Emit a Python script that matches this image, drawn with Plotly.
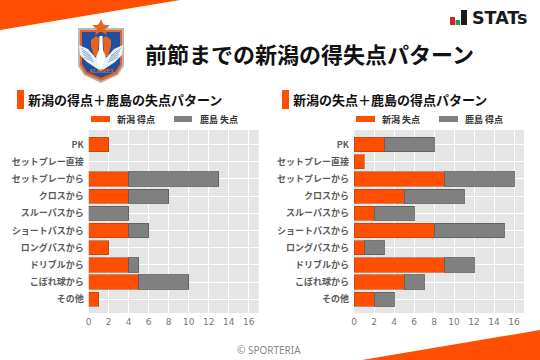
import plotly.graph_objects as go

categories = ["PK", "セットプレー直接", "セットプレーから", "クロスから", "スルーパスから",
              "ショートパスから", "ロングパスから", "ドリブルから", "こぼれ球から", "その他"]
left_niigata_for = [2, 0, 4, 4, 0, 4, 2, 4, 5, 1]
left_kashima_against = [0, 0, 9, 4, 4, 2, 0, 1, 5, 0]
right_niigata_against = [3, 1, 9, 5, 2, 8, 1, 9, 5, 2]
right_kashima_for = [5, 0, 7, 6, 4, 7, 2, 3, 2, 2]
x_ticks = [0, 2, 4, 6, 8, 10, 12, 14, 16]

W, H = 540, 360
ORANGE = "#ff4e00"
GRAY = "#808080"
JP = "Noto Sans CJK JP"


def X(v):
    return v / W


def Y(v):
    return 1 - v / H


def poly(points, fill, line=None, width=0):
    path = "M " + " L ".join(f"{X(a):.5f},{Y(b):.5f}" for a, b in points) + " Z"
    return dict(type="path", xref="paper", yref="paper", path=path, fillcolor=fill,
                line=dict(color=line or fill, width=width), layer="above")


def stroke(points, color, width=0.7):
    path = "M " + " L ".join(f"{X(a):.5f},{Y(b):.5f}" for a, b in points)
    return dict(type="path", xref="paper", yref="paper", path=path, line=dict(color=color, width=width),
                layer="above")


def rect(x0, y0, x1, y1, fill):
    return dict(type="rect", xref="paper", yref="paper", x0=X(x0), x1=X(x1), y0=Y(y1), y1=Y(y0),
                fillcolor=fill, line=dict(width=0), layer="above")


def label(x, y, text, size, color="#111111", anchor="left", family=JP, bold=False):
    return dict(xref="paper", yref="paper", x=X(x), y=Y(y), text=f"<b>{text}</b>" if bold else text,
                showarrow=False, xanchor=anchor, yanchor="middle", align=anchor, borderpad=0, borderwidth=0,
                font=dict(size=size, color=color, family=family))


def edge(values):
    return [1 if v else 0 for v in values]


fig = go.Figure()
panels = [
    ("x", "y", left_niigata_for, left_kashima_against),
    ("x2", "y2", right_niigata_against, right_kashima_for),
]
for xa, ya, first, second in panels:
    fig.add_bar(y=categories, x=first, orientation="h", xaxis=xa, yaxis=ya, showlegend=False,
                marker=dict(color=ORANGE, line=dict(color="rgba(150,70,30,0.55)", width=edge(first))), width=0.83)
    fig.add_bar(y=categories, x=second, orientation="h", xaxis=xa, yaxis=ya, showlegend=False,
                marker=dict(color=GRAY, line=dict(color="rgba(90,90,90,0.8)", width=edge(second))), width=0.83)

xstyle = dict(range=[0, 17], tickvals=x_ticks, showgrid=True, gridcolor="white", gridwidth=1, zeroline=False,
              showline=False, ticks="", tickfont=dict(size=9, color="#777777", family="DejaVu Sans"),
              anchor="free", position=Y(313), ticklabelstandoff=2)
ystyle = dict(categoryorder="array", categoryarray=categories, range=[9.8, -0.85], showgrid=True,
              gridcolor="white", gridwidth=1, zeroline=False, showline=False, ticks="",
              ticklabelstandoff=4, tickfont=dict(size=9, color="#5a5a5a", family=JP, weight=700),
              domain=[Y(313), Y(130)])

feathers = []
for k in range(4):
    feathers.append(stroke([(81 + k, 48 + 3 * k), (91 + k, 56 + 2 * k)], "#5f86c4"))
    feathers.append(stroke([(121 - k, 48 + 3 * k), (111 - k, 56 + 2 * k)], "#5f86c4"))

shapes = [
    poly([(0, 30), (180, 0), (0, 0)], ORANGE),
    poly([(362, 360), (540, 330), (540, 360)], ORANGE),
    rect(17, 90, 24, 109, ORANGE),
    rect(282, 90, 289, 109, ORANGE),
    rect(91, 116, 110, 122, ORANGE),
    rect(174, 116, 192, 122, GRAY),
    rect(356, 116, 375, 122, ORANGE),
    rect(439, 116, 458, 122, GRAY),
    rect(450, 17, 455, 25, "#d8232a"),
    rect(455.5, 20, 460, 25, "#1f9d55"),
    rect(461, 10, 467, 25, "#1a1a1a"),
    # club crest
    poly([(78, 28), (93, 28), (101, 22), (109, 28), (124, 28), (124, 66), (118, 75), (101, 83), (84, 75), (78, 66)],
         "#b8b8b8"),
    poly([(80, 30), (122, 30), (122, 65), (117, 74), (101, 81), (85, 74), (80, 65)], "#e8641e"),
    poly([(82, 32), (120, 32), (120, 64), (115, 72), (101, 78), (87, 72), (82, 64)], "#1f4f9e"),
    poly([(101, 19), (103.5, 25), (110, 25), (105, 29), (107, 35), (101, 31.5), (95, 35), (97, 29), (92, 25),
          (98.5, 25)], "#e8641e"),
    poly([(91, 40), (96, 36), (99, 38), (98, 56), (94, 56), (91, 46)], "#e8641e"),
    poly([(111, 40), (106, 36), (103, 38), (104, 56), (108, 56), (111, 46)], "#e8641e"),
    poly([(79, 45), (88, 49), (95, 57), (101, 62), (107, 57), (114, 49), (123, 45), (122, 55), (115, 62),
          (106, 68), (101, 71), (96, 68), (87, 62), (80, 55)], "#eef2fa"),
    poly([(99.5, 36), (102.5, 36), (103, 50), (106, 57), (101, 70), (96, 57), (99, 50)], "#ffffff"),
] + feathers

annotations = [
    label(145, 52.5, "前節までの新潟の得失点パターン", 22, bold=True),
    label(28, 99.5, "新潟の得点＋鹿島の失点パターン", 13, bold=True),
    label(293, 99.5, "新潟の失点＋鹿島の得点パターン", 13, bold=True),
    label(117, 119.5, "新潟 得点", 9, "#333333", bold=True),
    label(200, 119.5, "鹿島 失点", 9, "#333333", bold=True),
    label(382, 119.5, "新潟 失点", 9, "#333333", bold=True),
    label(465, 119.5, "鹿島 得点", 9, "#333333", bold=True),
    label(472, 18, "STATs", 17.5, "#1a1a1a", family="DejaVu Sans", bold=True),
    label(269, 350, "© SPORTERIA", 10, "#888888", "center", family="Noto Sans"),
    label(101, 71, "ALBIREX", 5.5, "#e8641e", "center", family="Liberation Serif", bold=True),
]

fig.update_layout(
    width=W, height=H, margin=dict(l=0, r=0, t=0, b=0, autoexpand=False), paper_bgcolor="white",
    plot_bgcolor="#e5e5e5", barmode="stack", shapes=shapes, annotations=annotations,
    xaxis=dict(domain=[X(88.7), X(258.7)], **xstyle),
    xaxis2=dict(domain=[X(354), X(524)], **xstyle),
    yaxis=dict(anchor="x", **ystyle),
    yaxis2=dict(anchor="x2", **ystyle),
)
fig.write_html("out.html", post_script="document.body.style.margin='0';", config=dict(displayModeBar=False))
